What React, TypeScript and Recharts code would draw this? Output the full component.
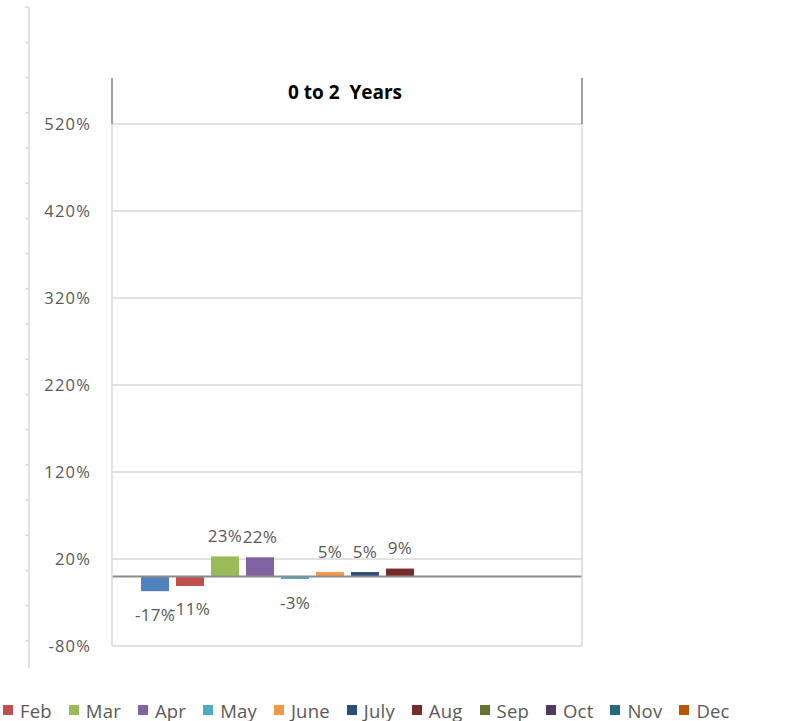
import { BarChart, Bar, XAxis, YAxis, CartesianGrid, ReferenceLine, LabelList } from 'recharts';

const GROUP = '0 to 2 Years';
const MONTHS = ['Jan', 'Feb', 'Mar', 'Apr', 'May', 'June', 'July', 'Aug', 'Sep', 'Oct', 'Nov', 'Dec'];
const CHANGE: (number | null)[] = [-17, -11, 23, 22, -3, 5, 5, 9, null, null, null, null];
const COLORS = ['#4F81BD', '#C0504D', '#9BBB59', '#8064A2', '#4BACC6', '#F79646', '#2C4D75', '#772C2A', '#5F7530', '#4D3B62', '#276A7C', '#B65708'];
const Y_TICKS = [-80, 20, 120, 220, 320, 420, 520];

const data = [
  MONTHS.reduce((row: Record<string, string | number | null>, m, i) => {
    row[m] = CHANGE[i];
    return row;
  }, { group: GROUP }),
];

const TEXT = '#595959';
const GRID = '#d9d9d9';

// label above positive bars, below negative ones
function BarLabel(props: any) {
  const { x, y, width, height, value } = props;
  if (value === null || value === undefined) return null;
  const top = Math.min(y, y + height);
  const bottom = Math.max(y, y + height);
  const cy = value >= 0 ? top - 21 : bottom + 23;
  return (
    <text x={x + width / 2} y={cy} textAnchor="middle" dominantBaseline="central" fill={TEXT} fontSize={17} letterSpacing={0.3}>
      {value + '%'}
    </text>
  );
}

export default function App() {
  // stray outer axis with minor ticks on the far left
  const outerTicks: number[] = [];
  for (let i = 0; i <= 18; i++) outerTicks.push(7.3 + i * 35.2);

  // the source picture is cropped: the Jan legend entry lies off the left edge
  const legendItems = MONTHS.map((m, i) => ({ m, c: COLORS[i] })).slice(1);

  return (
    <div style={{ position: 'absolute', left: 0, top: 0, width: 800, height: 721, overflow: 'hidden', background: '#fff', fontFamily: '"Open Sans", sans-serif' }}>
      <BarChart
        width={800}
        height={721}
        data={data}
        margin={{ top: 124, right: 217, bottom: 75, left: 12 }}
        barCategoryGap={29}
        barGap={7}
      >
        <CartesianGrid vertical={false} stroke={GRID} strokeWidth={1.5} />
        <XAxis dataKey="group" hide />
        <YAxis
          domain={[-80, 520]}
          ticks={Y_TICKS}
          interval={0}
          width={100}
          tickFormatter={(v: number) => v + '%'}
          axisLine={{ stroke: GRID, strokeWidth: 1.5 }}
          tickLine={false}
          tickSize={0}
          tickMargin={21}
          tick={{ fill: TEXT, fontSize: 16.5, letterSpacing: 1.2 }}
        />
        <YAxis
          yAxisId="r"
          orientation="right"
          domain={[-80, 520]}
          width={1}
          tick={false}
          tickLine={false}
          axisLine={{ stroke: GRID, strokeWidth: 1.5 }}
        />
        <ReferenceLine y={0} stroke="#8c8c8c" strokeWidth={2} />
        {MONTHS.map((m, i) => (
          <Bar key={m} dataKey={m} fill={COLORS[i]} isAnimationActive={false}>
            <LabelList dataKey={m} content={BarLabel} />
          </Bar>
        ))}
      </BarChart>

      <svg width={800} height={721} style={{ position: 'absolute', left: 0, top: 0, pointerEvents: 'none' }}>
        <line x1={29} y1={7} x2={29} y2={668} stroke={GRID} strokeWidth={1.5} />
        {outerTicks.map(t => (
          <line key={t} x1={25} y1={t} x2={29} y2={t} stroke={GRID} strokeWidth={1.5} />
        ))}
        <line x1={112} y1={78} x2={112} y2={124} stroke="#808080" strokeWidth={1.5} />
        <line x1={582} y1={78} x2={582} y2={124} stroke="#808080" strokeWidth={1.5} />
        <text x={345} y={92} textAnchor="middle" dominantBaseline="central" fontWeight="bold" fontSize={19} fill="#000" style={{ whiteSpace: 'pre' }}>
          {'0 to 2  Years'}
        </text>
      </svg>

      <div style={{ position: 'absolute', left: 3, top: 697, display: 'flex', alignItems: 'center', whiteSpace: 'nowrap', height: 26 }}>
        {legendItems.map(({ m, c }) => (
          <div key={m} style={{ display: 'flex', alignItems: 'center', marginRight: 17 }}>
            <span style={{ display: 'inline-block', width: 10, height: 10, background: c, marginRight: 7 }} />
            <span style={{ color: TEXT, fontSize: 18.5, letterSpacing: 0.2 }}>{m}</span>
          </div>
        ))}
      </div>
    </div>
  );
}
